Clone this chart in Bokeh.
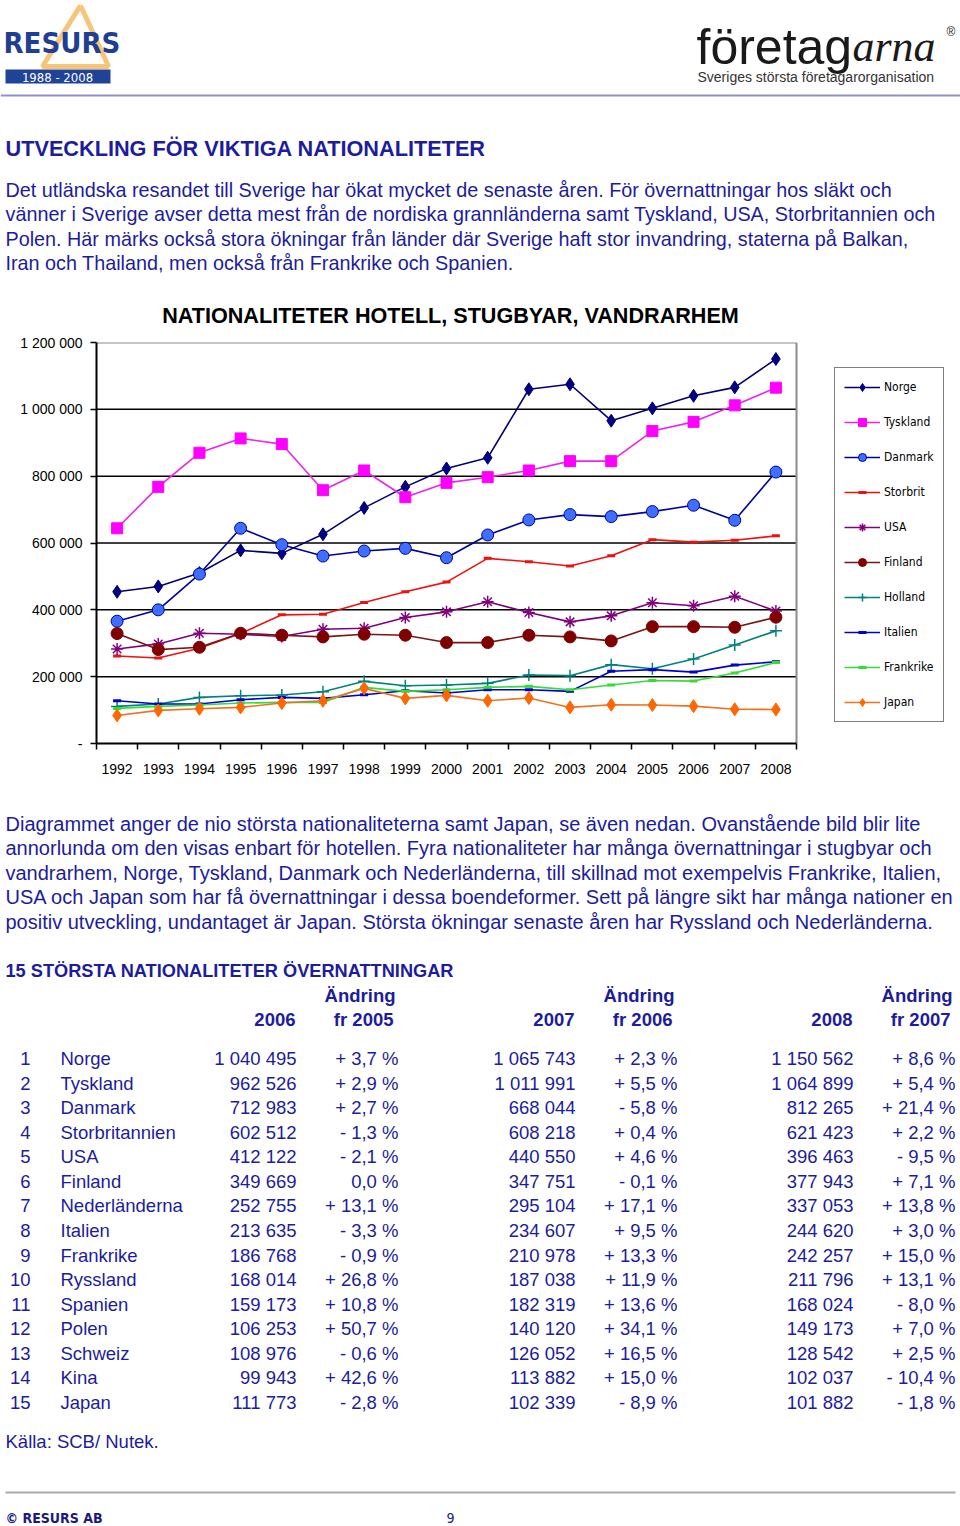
from bokeh.plotting import figure
from bokeh.models import Range1d, FixedTicker, Legend, LegendItem, ColumnDataSource, Span
from bokeh.core.properties import value
from bokeh.embed import file_html
from bokeh.resources import INLINE

# ---------------- chart data ----------------
years = list(range(1992, 2009))
norge = [454000, 470000, 510000, 578000, 569000, 626000, 705000, 768000, 823000, 855000,
         1060000, 1075000, 966000, 1003000, 1040495, 1065743, 1150562]
tyskland = [644000, 768000, 870000, 913000, 896000, 758000, 817000, 737000, 780000, 797000,
            817000, 845000, 845000, 935000, 962526, 1011991, 1064899]
danmark = [366000, 400000, 507000, 644000, 595000, 561000, 576000, 584000, 556000, 624000,
           669000, 685000, 679000, 694000, 712983, 668044, 812265]
storbrit = [262000, 256000, 285000, 329000, 385000, 387000, 422000, 454000, 483000, 554000,
            544000, 531000, 562000, 610000, 602512, 608218, 621423]
usa = [283000, 298000, 330000, 327000, 320000, 342000, 345000, 377000, 394000, 424000,
       392000, 364000, 382000, 421000, 412122, 440550, 396463]
finland = [329000, 281000, 288000, 330000, 324000, 319000, 327000, 324000, 302000, 302000,
           324000, 319000, 307000, 349700, 349669, 347751, 377943]
holland = [111000, 118000, 138000, 143000, 145000, 155000, 186000, 173000, 175000, 180000,
           205000, 203000, 236000, 223500, 252755, 295104, 337053]
italien = [128000, 118000, 118000, 131000, 138000, 135000, 146000, 158000, 151000, 161000,
           161000, 156000, 216000, 221000, 213635, 234607, 244620]
frankrike = [105000, 111000, 115000, 121000, 123000, 123000, 168000, 156000, 161000, 168000,
             171000, 161000, 175000, 188500, 186768, 210978, 242257]
japan = [84000, 99000, 104000, 108000, 121000, 128000, 165000, 135000, 144000, 128000,
         136000, 108000, 116000, 115000, 111773, 102339, 101882]

y_ticks = [0, 200000, 400000, 600000, 800000, 1000000, 1200000]
y_tick_labels = ["-", "200 000", "400 000", "600 000", "800 000", "1 000 000", "1 200 000"]

# ---------------- table data ----------------
ranks = list(range(1, 16))
names = ["Norge", "Tyskland", "Danmark", "Storbritannien", "USA", "Finland", "Nederländerna",
         "Italien", "Frankrike", "Ryssland", "Spanien", "Polen", "Schweiz", "Kina", "Japan"]
v2006 = [1040495, 962526, 712983, 602512, 412122, 349669, 252755, 213635, 186768, 168014,
         159173, 106253, 108976, 99943, 111773]
c2006 = [3.7, 2.9, 2.7, -1.3, -2.1, 0.0, 13.1, -3.3, -0.9, 26.8, 10.8, 50.7, -0.6, 42.6, -2.8]
v2007 = [1065743, 1011991, 668044, 608218, 440550, 347751, 295104, 234607, 210978, 187038,
         182319, 140120, 126052, 113882, 102339]
c2007 = [2.3, 5.5, -5.8, 0.4, 4.6, -0.1, 17.1, 9.5, 13.3, 11.9, 13.6, 34.1, 16.5, 15.0, -8.9]
v2008 = [1150562, 1064899, 812265, 621423, 396463, 377943, 337053, 244620, 242257, 211796,
         168024, 149173, 128542, 102037, 101882]
c2008 = [8.6, 5.4, 21.4, 2.2, -9.5, 7.1, 13.8, 3.0, 15.0, 13.1, -8.0, 7.0, 2.5, -10.4, -1.8]

BLUE = "#1c1c9c"
SANS = "Liberation Sans"
NARROW = "Liberation Sans Narrow, DejaVu Sans Condensed, sans-serif"


def fmt_int(n):
    return f"{n:,}".replace(",", " ")


def fmt_pct(v):
    if v > 0:
        return ("+ %.1f %%" % v).replace(".", ",")
    if v < 0:
        return ("- %.1f %%" % abs(v)).replace(".", ",")
    return "0,0 %"


def page_fig(h, y0):
    f = figure(width=960, height=h, output_backend="svg", toolbar_location=None,
               x_range=Range1d(0, 960), y_range=Range1d(y0 + h, y0),
               x_axis_location=None, y_axis_location=None, min_border=0,
               outline_line_color=None)
    f.grid.visible = False
    f.background_fill_color = "white"
    f.border_fill_color = "white"
    return f


def put(f, x, y, txt, size="18px", color=BLUE, align="left", bold=False, font=SANS,
        italic=False):
    style = "bold" if bold else ("italic" if italic else "normal")
    f.text(x=[x], y=[y], text=[txt], text_align=align, text_baseline="middle",
           text_font=value(font), text_font_size=value(size), text_color=color,
           text_font_style=style)


# ---------------- header ----------------
top = page_fig(330, 0)
top.line(x=[80, 42, 108, 80], y=[5, 66, 66, 5], line_color="#F7C57A", line_width=5)
put(top, 3, 42, "RESURS", size="29px", color="#1f3f94", bold=True, font=NARROW)
top.quad(left=[5], right=[110], top=[69], bottom=[83], fill_color="#1f4397", line_color=None)
put(top, 57, 76.5, "1988 - 2008", size="13px", color="white", align="center", font=NARROW)

put(top, 696, 46, "företag", size="50px", color="#1a1a1a", font=SANS)
put(top, 852, 46, "arna", size="44px", color="#1a1a1a", font="Liberation Serif", italic=True)
put(top, 946, 31, "®", size="12px", color="#1a1a1a")
put(top, 697, 76, "Sveriges största företagarorganisation", size="14px", color="#333333")
top.add_layout(Span(location=95, dimension="width", line_color="#9090c8", line_width=2))

put(top, 5, 148, "UTVECKLING FÖR VIKTIGA NATIONALITETER", size="21.7px", bold=True)
para1 = [
    "Det utländska resandet till Sverige har ökat mycket de senaste åren. För övernattningar hos släkt och",
    "vänner i Sverige avser detta mest från de nordiska grannländerna samt Tyskland, USA, Storbritannien och",
    "Polen. Här märks också stora ökningar från länder där Sverige haft stor invandring, staterna på Balkan,",
    "Iran och Thailand, men också från Frankrike och Spanien.",
]
for i, line in enumerate(para1):
    put(top, 5, 189 + 24.6 * i, line, size="19.8px")

put(top, 450, 315, "NATIONALITETER HOTELL, STUGBYAR, VANDRARHEM", size="21.6px",
    color="black", bold=True, align="center")

# ---------------- chart ----------------
# The frame reaches past the plotted years so that the legend box can sit inside it
# on the right; axis, grid and border are bounded to the year span.
x_lo, x_hi = years[0] - 0.5, years[-1] + 0.5
left_b, right_b = 96, 15
frame_w = 960 - left_b - right_b
plot_w = 700
x_end = x_lo + frame_w * (x_hi - x_lo) / plot_w

c = figure(width=960, height=460, output_backend="svg", toolbar_location=None,
           x_range=Range1d(x_lo, x_end), y_range=Range1d(0, 1200000),
           min_border_left=left_b, min_border_right=right_b, min_border_top=12,
           min_border_bottom=47)
c.background_fill_color = "white"
c.border_fill_color = "white"
c.outline_line_color = None
c.grid.visible = False

grid_y = y_ticks[1:-1]
c.segment(x0=[x_lo] * len(grid_y), x1=[x_hi] * len(grid_y), y0=grid_y, y1=grid_y,
          line_color="black", line_width=1.5)
c.segment(x0=[x_lo, x_hi], x1=[x_hi, x_hi], y0=[y_ticks[-1], 0], y1=[y_ticks[-1], y_ticks[-1]],
          line_color="#8c8c8c", line_width=2)

c.yaxis.ticker = FixedTicker(ticks=y_ticks)
c.yaxis.major_label_overrides = {t: l for t, l in zip(y_ticks, y_tick_labels)}
c.yaxis.major_tick_in = 0
c.yaxis.major_tick_out = 6
c.yaxis.minor_tick_line_color = None
c.yaxis.major_label_standoff = 8
c.xaxis.ticker = FixedTicker(ticks=years, minor_ticks=[y - 0.5 for y in years] + [x_hi])
c.xaxis.major_label_overrides = {y: str(y) for y in years}
c.xaxis.bounds = (x_lo, x_hi)
c.xaxis.major_tick_in = 0
c.xaxis.major_tick_out = 0
c.xaxis.minor_tick_in = 0
c.xaxis.minor_tick_out = 6
c.xaxis.minor_tick_line_color = "black"
c.xaxis.minor_tick_line_width = 1.5
c.xaxis.major_label_standoff = 14
for ax in (c.xaxis, c.yaxis):
    ax.axis_line_color = "black"
    ax.axis_line_width = 2
    ax.major_tick_line_color = "black"
    ax.major_tick_line_width = 1.5
    ax.major_label_text_font = SANS
    ax.major_label_text_font_size = "14px"
    ax.major_label_text_color = "black"

series = [
    ("Norge", norge, "#000070", "diamond", 13, "#000080", "#000080", 1),
    ("Tyskland", tyskland, "#EE22EE", "square", 11, "#FF00FF", "#FF00FF", 1),
    ("Danmark", danmark, "#0000A0", "circle", 12, "#3F6FFF", "#0000A0", 1),
    ("Storbrit", storbrit, "#EE1111", "dash", 8, "#FF0000", "#EE1111", 3),
    ("USA", usa, "#800080", "asterisk", 12, "#800080", "#800080", 1.5),
    ("Finland", finland, "#7A1515", "circle", 12, "#800000", "#800000", 1),
    ("Holland", holland, "#008080", "cross", 12, "#008080", "#008080", 1.5),
    ("Italien", italien, "#0000CC", "dash", 8, "#0000CC", "#0000CC", 3),
    ("Frankrike", frankrike, "#33DD33", "dash", 8, "#33DD33", "#33DD33", 3),
    ("Japan", japan, "#F07020", "diamond", 13, "#FF6600", "#FF6600", 1),
]
items = []
for name, vals, lc, marker, size, fc, mlc, mlw in series:
    src = ColumnDataSource(dict(x=years, y=vals))
    r1 = c.line("x", "y", source=src, line_color=lc, line_width=1.6)
    r2 = c.scatter("x", "y", source=src, marker=marker, size=size,
                   fill_color=fc, line_color=mlc, line_width=mlw)
    items.append(LegendItem(label=name, renderers=[r1, r2]))

legend = Legend(items=items, location=(738, 21), orientation="vertical",
                border_line_color="black", border_line_width=1,
                background_fill_color="white", background_fill_alpha=1,
                padding=9, spacing=15, margin=0,
                glyph_width=36, glyph_height=20, label_height=20, label_standoff=4,
                label_text_font=NARROW, label_text_font_size="12px",
                label_text_color="black")
c.add_layout(legend)

# ---------------- bottom ----------------
bot = page_fig(736, 790)
para2 = [
    "Diagrammet anger de nio största nationaliteterna samt Japan, se även nedan. Ovanstående bild blir lite",
    "annorlunda om den visas enbart för hotellen. Fyra nationaliteter har många övernattningar i stugbyar och",
    "vandrarhem, Norge, Tyskland, Danmark och Nederländerna, till skillnad mot exempelvis Frankrike, Italien,",
    "USA och Japan som har få övernattningar i dessa boendeformer. Sett på längre sikt har många nationer en",
    "positiv utveckling, undantaget är Japan. Största ökningar senaste åren har Ryssland och Nederländerna.",
]
for i, line in enumerate(para2):
    put(bot, 5, 823 + 24.5 * i, line, size="20px")

put(bot, 5, 970, "15 STÖRSTA NATIONALITETER ÖVERNATTNINGAR", size="18.2px", bold=True)
hdr_years = ["2006", "2007", "2008"]
hdr_prev = ["fr 2005", "fr 2006", "fr 2007"]
val_right = [296, 575, 853]
chg_right = [396, 675, 953]
for k in range(3):
    put(bot, chg_right[k] - 1, 995, "Ändring", size="18.5px", bold=True, align="right")
    put(bot, val_right[k] - 1, 1019, hdr_years[k], size="18.5px", bold=True, align="right")
    put(bot, chg_right[k] - 3, 1019, hdr_prev[k], size="18.5px", bold=True, align="right")

row_y = [1058 + 24.57 * i for i in range(15)]
tbl = ColumnDataSource(dict(
    y=row_y,
    rank=[str(r) for r in ranks],
    name=names,
    a=[fmt_int(v) for v in v2006], ca=[fmt_pct(v) for v in c2006],
    b=[fmt_int(v) for v in v2007], cb=[fmt_pct(v) for v in c2007],
    d=[fmt_int(v) for v in v2008], cd=[fmt_pct(v) for v in c2008],
))
common = dict(source=tbl, y="y", text_baseline="middle", text_font=value(SANS),
              text_font_size=value("18.5px"), text_color=BLUE)
bot.text(x=30, text="rank", text_align="right", **common)
bot.text(x=60, text="name", text_align="left", **common)
for col, xr in zip(["a", "b", "d"], val_right):
    bot.text(x=xr, text=col, text_align="right", **common)
for col, xr in zip(["ca", "cb", "cd"], chg_right):
    bot.text(x=xr + 2, text=col, text_align="right", **common)

put(bot, 5, 1441, "Källa: SCB/ Nutek.", size="18.5px")
bot.segment(x0=[5], y0=[1492], x1=[955], y1=[1492], line_color="#aaaaaa", line_width=2)
put(bot, 5, 1517, "© RESURS AB", size="14px", bold=True, color="#1a1a80", font=NARROW)
put(bot, 450, 1517, "9", size="14px", color="#1a1a80", align="center", font=NARROW)

open("out.html", "w").write(file_html([top, c, bot], INLINE))
